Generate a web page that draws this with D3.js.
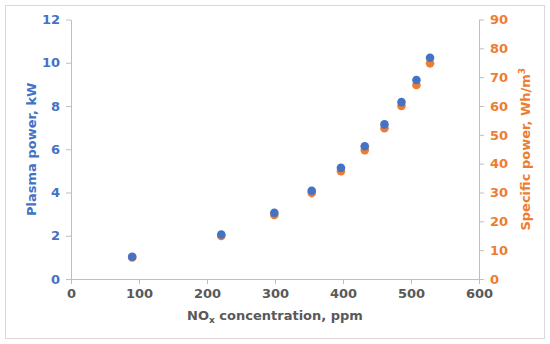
<!DOCTYPE html>
<html>
<head>
<meta charset="utf-8">
<script src="https://cdn.jsdelivr.net/npm/d3@7"></script>
<style>
  body { margin: 0; background: #fff; }
  svg { display: block; font-family: "DejaVu Sans", Verdana, sans-serif; font-weight: bold; }
</style>
</head>
<body>
<svg width="550" height="344"></svg>
<script>
// NOx concentration (ppm)
const nox = [90, 221, 299, 354, 397, 432, 461, 486, 508, 528];
// plasma power (kW), left axis
const plasmaPower = [1.03, 2.06, 3.06, 4.08, 5.14, 6.14, 7.15, 8.18, 9.2, 10.23];
// specific power (Wh/m3), right axis
const specificPower = [7.5, 14.9, 22.2, 29.8, 37.4, 44.7, 52.3, 60.0, 67.3, 74.8];

const xTicks = [0, 100, 200, 300, 400, 500, 600];
const leftTicks = [0, 2, 4, 6, 8, 10, 12];
const rightTicks = [0, 10, 20, 30, 40, 50, 60, 70, 80, 90];

const blue = "#4472C4";
const orange = "#ED7D31";
const axisGray = "#BFBFBF";

const margin = { top: 19.5, right: 71, bottom: 65, left: 71 };
const width = 550, height = 344;

const x = d3.scaleLinear().domain([0, 600]).range([margin.left, width - margin.right]);
const yL = d3.scaleLinear().domain([0, 12]).range([height - margin.bottom, margin.top]);
const yR = d3.scaleLinear().domain([0, 90]).range([height - margin.bottom, margin.top]);

const svg = d3.select("svg");

svg.append("rect")
  .attr("x", 5.5).attr("y", 5.5)
  .attr("width", 539).attr("height", 333)
  .attr("fill", "none")
  .attr("stroke", "#D9D9D9");

function styleAxis(g, color) {
  g.select(".domain").attr("stroke", axisGray);
  g.selectAll(".tick line").attr("stroke", axisGray);
  g.selectAll(".tick text")
    .attr("fill", color)
    .style("font-size", "13px")
    .style("font-family", "'DejaVu Sans', Verdana, sans-serif")
    .style("font-weight", "bold");
}

svg.append("g")
  .attr("transform", `translate(0,${yL(0)})`)
  .call(d3.axisBottom(x).tickValues(xTicks).tickSize(5).tickSizeOuter(0).tickPadding(5))
  .call(g => styleAxis(g, "#595959"));

svg.append("g")
  .attr("transform", `translate(${x(0)},0)`)
  .call(d3.axisLeft(yL).tickValues(leftTicks).tickSize(5).tickSizeOuter(0).tickPadding(6))
  .call(g => styleAxis(g, blue));

svg.append("g")
  .attr("transform", `translate(${x(600)},0)`)
  .call(d3.axisRight(yR).tickValues(rightTicks).tickSize(5).tickSizeOuter(0).tickPadding(6))
  .call(g => styleAxis(g, orange));

// points: orange first, blue on top
svg.append("g").selectAll("circle")
  .data(nox)
  .join("circle")
  .attr("cx", d => x(d))
  .attr("cy", (d, i) => yR(specificPower[i]))
  .attr("r", 4.3)
  .attr("fill", orange);

svg.append("g").selectAll("circle")
  .data(nox)
  .join("circle")
  .attr("cx", d => x(d))
  .attr("cy", (d, i) => yL(plasmaPower[i]))
  .attr("r", 4.3)
  .attr("fill", blue);

const midY = (yL(0) + yL(12)) / 2;

// axis titles
const xt = svg.append("text")
  .attr("x", (x(0) + x(600)) / 2)
  .attr("y", 320)
  .attr("text-anchor", "middle")
  .attr("fill", "#595959")
  .style("font-size", "13px");
xt.append("tspan").text("NO");
xt.append("tspan").text("x").attr("dy", 3).style("font-size", "9px");
xt.append("tspan").text(" concentration, ppm").attr("dy", -3);

svg.append("text")
  .attr("transform", `translate(36,${midY}) rotate(-90)`)
  .attr("text-anchor", "middle")
  .attr("fill", blue)
  .style("font-size", "13px")
  .text("Plasma power, kW");

const rt = svg.append("text")
  .attr("transform", `translate(530,${midY}) rotate(-90)`)
  .attr("text-anchor", "middle")
  .attr("fill", orange)
  .style("font-size", "13px");
rt.append("tspan").text("Specific power, Wh/m");
rt.append("tspan").text("3").attr("dy", -5).style("font-size", "9px");
</script>
</body>
</html>
